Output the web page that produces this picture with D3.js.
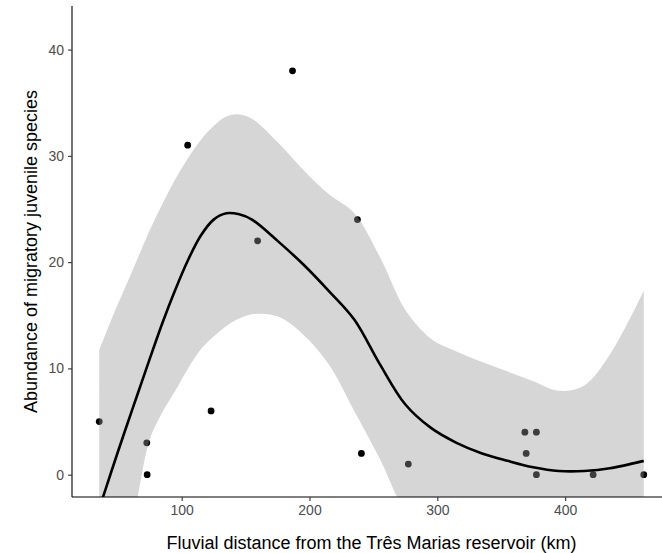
<!DOCTYPE html>
<html><head><meta charset="utf-8">
<script src="https://cdn.jsdelivr.net/npm/d3@7"></script>
<style>body{margin:0;background:#fff}svg{display:block}text{font-family:"Liberation Sans",Arial,sans-serif}</style>
</head><body><svg id="c" width="662" height="553"></svg>
<script>
// observed points (km, abundance)
const pointX = [35.5, 72.7, 73.0, 104.7, 123.0, 159.4, 186.7, 237.5, 240.6, 277.3, 368.5, 377.5, 369.5, 377.5, 421.9, 461.5];
const pointY = [5, 3, 0, 31, 6, 22, 38, 24, 2, 1, 4, 4, 2, 0, 0, 0];
// smoother (fit + confidence band)
const smoothX = [35.5, 45, 55, 65, 75, 85, 95, 105, 115, 125, 135, 145, 155, 175, 195, 215, 235, 255, 275, 295, 315, 335, 355, 375, 395, 415, 435, 461.5];
const fitY    = [-3.2, 0.3, 3.9, 7.4, 10.9, 14.3, 17.4, 20.2, 22.5, 24.0, 24.6, 24.5, 24.0, 22.0, 19.8, 17.3, 14.6, 10.4, 6.6, 4.4, 3.0, 2.0, 1.3, 0.7, 0.35, 0.35, 0.6, 1.3];
const upperY  = [11.7, 14.6, 17.4, 20.2, 23.0, 25.5, 27.8, 29.8, 31.5, 32.8, 33.7, 33.9, 33.5, 31.3, 28.7, 26.4, 24.6, 20.5, 15.5, 12.8, 11.6, 10.6, 9.7, 8.8, 7.9, 8.4, 11.3, 17.3];
const lowerY  = [-25, -16, -9, -2.5, 3.3, 5.9, 7.9, 10.0, 11.8, 13.0, 14.0, 14.7, 15.1, 14.9, 13.2, 10.4, 6.0, 1.5, -3.5, -6, -7, -7.5, -7.5, -7.5, -8, -8.5, -10, -14];
const xTicks = [100, 200, 300, 400];
const yTicks = [0, 10, 20, 30, 40];
const xTitle = "Fluvial distance from the Três Marias reservoir (km)";
const yTitle = "Abundance of migratory juvenile species";

const svg = d3.select("#c");
const L = 72, R = 671, T = 6, B = 497;
const x = d3.scaleLinear().domain([14.2, 482.8]).range([L, R]);
const y = d3.scaleLinear().domain([-2.1, 44.1]).range([B, T]);

svg.append("defs").append("clipPath").attr("id", "clip")
  .append("rect").attr("x", L).attr("y", T).attr("width", 662 - L).attr("height", B - T);

const g = svg.append("g").attr("clip-path", "url(#clip)");

const pts = pointX.map((v, i) => [v, pointY[i]]);
g.selectAll("circle").data(pts).enter().append("circle")
  .attr("cx", d => x(d[0])).attr("cy", d => y(d[1])).attr("r", 3.4).attr("fill", "#000");

const sm = smoothX.map((v, i) => ({x: v, f: fitY[i], lo: lowerY[i], hi: upperY[i]}));
const curve = d3.curveCatmullRom.alpha(0.5);
g.append("path").datum(sm)
  .attr("d", d3.area().x(d => x(d.x)).y0(d => y(d.lo)).y1(d => y(d.hi)).curve(curve))
  .attr("fill", "#999999").attr("fill-opacity", 0.4);
g.append("path").datum(sm)
  .attr("d", d3.line().x(d => x(d.x)).y(d => y(d.f)).curve(curve))
  .attr("fill", "none").attr("stroke", "#000").attr("stroke-width", 2.6);

const xa = svg.append("g").attr("transform", `translate(0,${B})`)
  .call(d3.axisBottom(x).tickValues(xTicks).tickSize(4).tickPadding(4).tickSizeOuter(0));
const ya = svg.append("g").attr("transform", `translate(${L},0)`)
  .call(d3.axisLeft(y).tickValues(yTicks).tickSize(4).tickPadding(4).tickSizeOuter(0));
[xa, ya].forEach(a => {
  a.select(".domain").attr("stroke", "#000").attr("stroke-width", 1.1);
  a.selectAll(".tick line").attr("stroke", "#333").attr("stroke-width", 1.1);
  a.selectAll(".tick text").attr("fill", "#4d4d4d").style("font-size", "14px")
    .style("font-family", '"Liberation Sans", Arial, sans-serif');
});
xa.select(".domain").attr("d", `M${L},0H662`);
ya.select(".domain").attr("d", `M0,${T}V${B}`);

svg.append("text").attr("x", (L + R) / 2).attr("y", 549).attr("text-anchor", "middle")
  .style("font-size", "18px").attr("fill", "#000").text(xTitle);
svg.append("text").attr("transform", `translate(37,${(T + B) / 2}) rotate(-90)`).attr("text-anchor", "middle")
  .style("font-size", "18px").attr("fill", "#000").text(yTitle);
</script></body></html>
